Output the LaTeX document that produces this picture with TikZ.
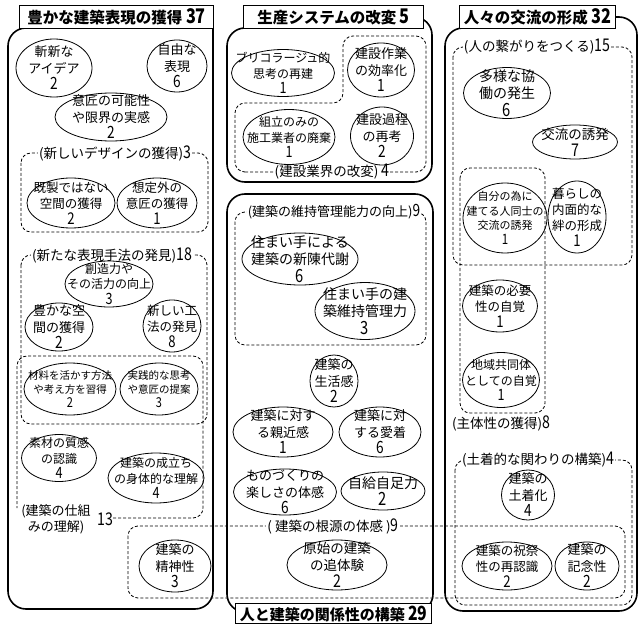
\documentclass[tikz,border=0pt]{standalone}
\usepackage{fontspec}
\setmainfont{Noto Sans CJK JP}
\usetikzlibrary{shapes.geometric}
\tikzset{
  panel/.style={line width=1.6pt, rounded corners=18pt},
  titlebox/.style={draw, line width=1.3pt, fill=white, inner sep=0pt, anchor=north west,
    font=\fontsize{15.5}{17}\selectfont\bfseries},
  elshape/.style={draw, ellipse, line width=0.8pt, inner sep=0pt},
  eltext/.style={align=center, inner sep=0pt},
  grp/.style={line width=0.8pt, dash pattern=on 3pt off 2pt, rounded corners=10pt},
  grplabel/.style={fill=white, inner sep=1pt, font=\fontsize{13.5}{15}\selectfont},
}
\newcommand\N[1]{\scalebox{1.05}[1.3]{#1}}
\newcommand\El[8][13]{%
  \node[elshape, minimum width=#5pt, minimum height=#6pt] (#2) at (#3,#4) {};
  \node[eltext, font=\fontsize{#1}{\dimexpr #1pt+3.5pt\relax}\selectfont] (#2t) at (#3,#4) {#7\\\N{#8}};}
\begin{document}
\begin{tikzpicture}[x=1pt,y=-1pt]
\useasboundingbox (0,0) rectangle (642,628);
% panels
\draw[panel] (60,28) -- (8,28) -- (8,609) -- (213,609) -- (213,28);
\draw[panel] (270,28) -- (227,28) -- (227,182) -- (432,182) -- (432,17) -- (390,17);
\draw[panel] (270,612) -- (227,612) -- (227,194) -- (433,194) -- (433,612) -- (400,612);
\draw[panel] (500,28) -- (445,28) -- (445,611) -- (637,611) -- (637,17) -- (590,17);
% groups
\draw[grp] (21,153) rectangle (208,232);
\draw[grp] (21,255) rectangle (207,424);
\draw[grp] (113,518) -- (203,518) -- (203,356) -- (17,356) -- (17,508);
\draw[grp] (235,172) -- (426,172) -- (426,36) -- (343,36) -- (343,103) -- (235,103) -- cycle;
\draw[grp] (235,212) rectangle (426,345);
\draw[grp] (453,47) rectangle (632,265);
\draw[grp] (460,168) rectangle (545,413);
\draw[grp] (455,460) rectangle (632,605);
\draw[grp] (128,526) rectangle (625,598);
% group labels
\node[grplabel] (g1) at (115,153) {(新しいデザインの獲得)\N{3}};
\node[grplabel] (g2) at (112,255) {(新たな表現手法の発見)\N{18}};
\node[grplabel, align=center, fill=none, font=\fontsize{13}{16}\selectfont] (g3) at (56,519) {(建築の仕組\\みの理解)};
\node[grplabel, fill=none] (g3n) at (105,519) {\N{13}};
\node[grplabel] (g4) at (332,172) {(建設業界の改変) \N{4}};
\node[grplabel, font=\fontsize{13}{15}\selectfont] (g5) at (334,212) {(建築の維持管理能力の向上)\N{9}};
\node[grplabel] (g6) at (537,47) {(人の繋がりをつくる)\N{15}};
\node[grplabel, fill=none] (g7) at (501,423) {(主体性の獲得)\N{8}};
\node[grplabel] (g8) at (538,460) {(土着的な関わりの構築)\N{4}};
\node[grplabel] (g9) at (333,526) {( 建築の根源の体感 )\N{9}};
% left ellipses
\El{e1}{54}{68}{76}{58}{斬新な\\アイデア}{2}
\El{e2}{177}{66}{60}{52}{自由な\\表現}{6}
\El{e3}{111}{117}{112}{48}{意匠の可能性\\や限界の実感}{2}
\El[12.5]{e4}{71}{203}{88}{50}{既製ではない\\空間の獲得}{2}
\El[12.5]{e5}{157}{203}{80}{50}{想定外の\\意匠の獲得}{1}
\El[12]{e6}{109}{284}{88}{46}{創造力や\\その活力の向上}{3}
\El{e7}{59}{327}{68}{48}{豊かな空\\間の獲得}{2}
\El[12.5]{e8}{172}{326}{58}{52}{新しい工\\法の発見}{8}
\El[10.5]{e9}{70}{389}{92}{52}{材料を活かす方法\\や考え方を習得}{2}
\El[10.5]{e10}{159}{389}{78}{52}{実践的な思考\\や意匠の提案}{3}
\El[12]{e11}{59}{458}{75}{47}{素材の質感\\の認識}{4}
\El[12]{e12}{156}{478}{96}{50}{建築の成立ち\\の身体的な理解}{4}
\El{e13}{175}{566}{72}{52}{建築の\\精神性}{3}
% middle top
\El[12]{m1}{283}{73}{103}{47}{ブリコラージュ的\\思考の再建}{1}
\El{m2}{381}{70}{67}{54}{建設作業\\の効率化}{1}
\El[12]{m3}{289}{137}{92}{55}{組立のみの\\施工業者の廃棄}{1}
\El{m4}{382}{136}{63}{58}{建設過程\\の再考}{2}
% middle bottom
\El[14]{b1}{300}{259}{116}{52}{住まい手による\\建築の新陳代謝}{6}
\El[14]{b2}{365}{311}{100}{57}{住まい手の建\\築維持管理力}{3}
\El{b3}{334}{381}{48}{52}{建築の\\生活感}{2}
\El{b4}{283}{432}{100}{50}{建築に対す\\る親近感}{1}
\El{b5}{380}{432}{82}{50}{建築に対\\する愛着}{6}
\El{b6}{285}{492}{103}{46}{ものづくりの\\楽しさの体感}{6}
\El[14]{b7}{383}{491}{84}{38}{自給自足力}{2}
\El[13.5]{b8}{337}{565}{100}{50}{原始の建築\\の追体験}{2}
% right
\El[14]{r1}{507}{93}{87}{51}{多様な協\\働の発生}{6}
\El[13.5]{r2}{575}{142}{85}{34}{交流の誘発}{7}
\El[11]{r3}{505}{218}{84}{70}{自分の為に\\建てる人同士の\\交流の誘発}{1}
\El[12.5]{r4}{577}{217}{58}{72}{暮らしの\\内面的な\\絆の形成}{1}
\El[12.5]{r5}{500}{306}{75}{52}{建築の必要\\性の自覚}{1}
\El[12]{r6}{501}{380}{77}{55}{地域共同体\\としての自覚}{1}
\El{r7}{528}{495}{53}{50}{建築の\\土着化}{4}
\El[12.5]{r8}{507}{566}{90}{48}{建築の祝祭\\性の再認識}{2}
\El{r9}{587}{566}{64}{48}{建築の\\記念性}{2}
% title boxes
\node[titlebox, minimum width=194pt, minimum height=23pt] (t1) at (19,5) {豊かな建築表現の獲得 \N{37}};
\node[titlebox, minimum width=180pt, minimum height=23pt] (t2) at (243,5) {生産システムの改変 \N{5}};
\node[titlebox, minimum width=156pt, minimum height=23pt] (t3) at (459,5) {人々の交流の形成 \N{32}};
\node[titlebox, minimum width=196pt, minimum height=20pt, font=\fontsize{15}{17}\selectfont\bfseries] (t4) at (235,603) {人と建築の関係性の構築 \N{29}};
\end{tikzpicture}
\end{document}
